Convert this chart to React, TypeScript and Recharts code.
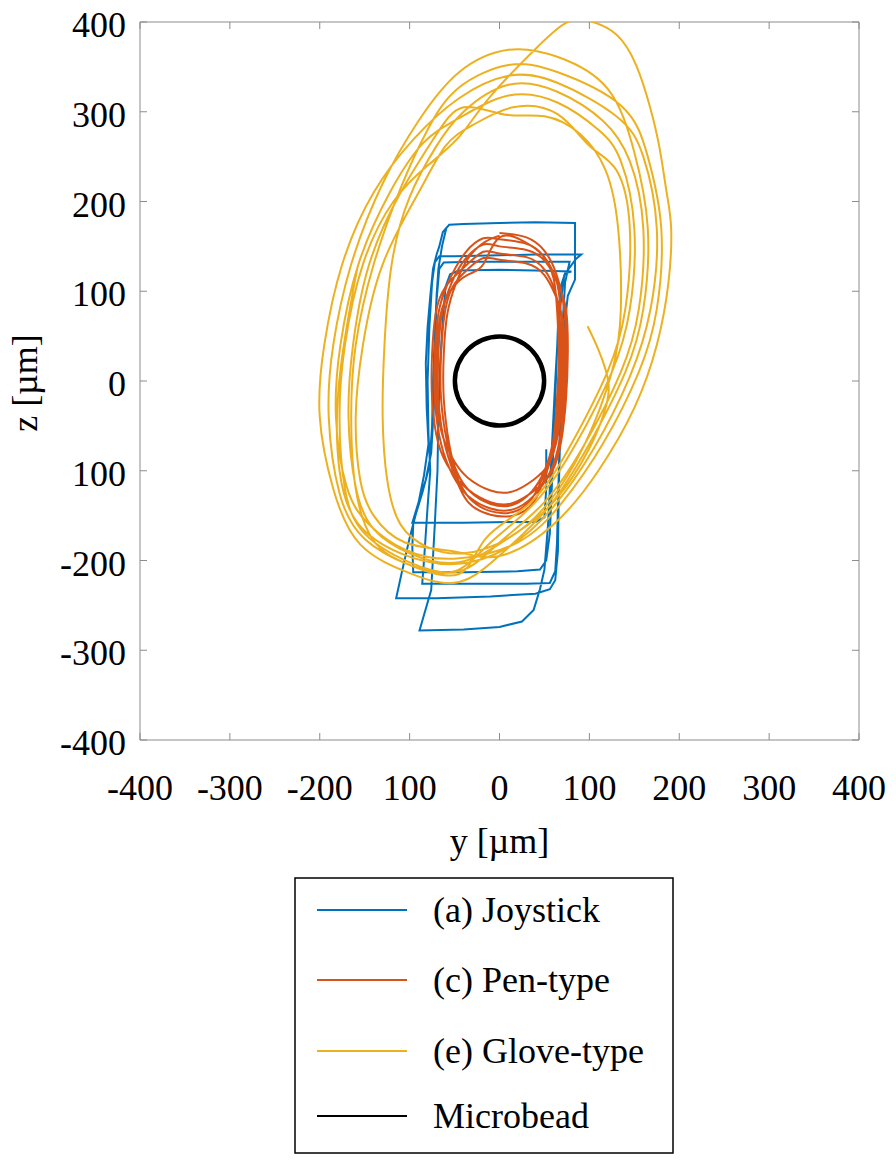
import React from 'react';
import { ScatterChart, Scatter, XAxis, YAxis, Label } from 'recharts';

// Trajectories of the manipulated microbead, y/z in µm.

const axisTicks = [-400, -300, -200, -100, 0, 100, 200, 300, 400];
// the printed figure lost the minus sign on -100 on both axes
const tickLabels = ['-400', '-300', '-200', '100', '0', '100', '200', '300', '400'];

const joystickTrace: [number, number][] = [
  [-59, 171], [-64, 150], [-68, 125], [-70, 95], [-72, 50], [-74, 0], [-75, -50], [-78, -95], [-86, -125],
  [-93, -148], [-100, -175], [-108, -210], [-115, -242],
  [-70, -242], [-10, -240], [40, -237], [56, -232], [62, -222], [65, -190], [66, -120], [68, -40], [70, 40],
  [76, 95], [84, 113], [84, 150], [84, 176],
  [40, 177], [0, 176], [-40, 175], [-56, 174], [-63, 166], [-67, 150], [-70, 141],
  [-74, 125], [-77, 95], [-80, 60], [-82, 20], [-81, -30], [-79, -70], [-84, -105], [-90, -135], [-96, -160],
  [-97, -185], [-96, -213],
  [-40, -213], [20, -212], [45, -210], [52, -200], [56, -170], [59, -100], [62, -20], [65, 60], [68, 105],
  [73, 120], [80, 122],
  [40, 123], [0, 124], [-45, 123], [-55, 119], [-60, 105], [-63, 70], [-66, 20], [-68, -40], [-69, -100],
  [-72, -160], [-76, -233], [-89, -278],
  [-40, -277], [0, -274], [25, -268], [38, -255], [45, -232], [50, -210], [54, -160], [58, -80], [62, 0],
  [66, 70], [72, 118], [85, 136], [91, 141],
  [40, 141], [0, 140], [-50, 139], [-67, 139], [-72, 132], [-75, 110], [-78, 60], [-80, 0], [-79, -60],
  [-77, -100], [-80, -140], [-84, -200], [-86, -226],
  [-30, -226], [30, -226], [56, -225], [62, -212], [64, -180], [66, -100], [68, -20], [70, 60], [73, 110],
  [78, 133],
  [30, 133], [-30, 133], [-62, 132], [-67, 125], [-70, 90], [-72, 30], [-73, -30], [-76, -80], [-82, -110],
  [-90, -135], [-97, -158],
  [-40, -158], [10, -157], [40, -157], [50, -152], [52, -120], [52, -76],
];

const penTrace: [number, number][] = [
  [0, 165], [30, 160], [50, 145], [63, 120], [72, 80], [74, 30], [72, -20], [67, -65], [57, -100], [38, -128],
  [15, -143], [-10, -142], [-35, -128], [-52, -105], [-65, -70], [-72, -20], [-72, 30], [-68, 75], [-57, 110],
  [-38, 143], [-18, 159],
  [0, 158], [30, 153], [50, 138], [63, 113], [68, 80], [70, 30], [68, -20], [63, -65], [53, -100], [38, -135],
  [15, -150], [-10, -149], [-35, -135], [-50, -105], [-61, -70], [-68, -20], [-68, 30], [-64, 75], [-53, 110],
  [-38, 136], [-18, 152],
  [0, 150], [30, 146], [52, 132], [65, 108], [74, 80], [76, 30], [74, -20], [69, -65], [59, -100], [40, -121],
  [15, -136], [-10, -135], [-35, -121], [-54, -100], [-68, -70], [-75, -20], [-75, 30], [-71, 75], [-60, 105],
  [-38, 128], [-18, 144],
  [0, 142], [30, 138], [50, 124], [62, 100], [66, 75], [68, 30], [66, -20], [61, -65], [51, -100], [36, -131],
  [15, -146], [-10, -145], [-33, -131], [-48, -105], [-58, -70], [-65, -20], [-65, 30], [-61, 75], [-52, 105],
  [-36, 124], [-18, 137],
  [0, 135], [30, 131], [50, 118], [62, 96], [70, 70], [72, 30], [70, -20], [65, -60], [55, -92], [38, -110],
  [15, -123], [-10, -122], [-35, -108], [-50, -90], [-63, -62], [-70, -20], [-70, 30], [-66, 72], [-55, 100],
  [-36, 118], [-18, 130],
  [0, 160], [28, 155], [48, 140], [60, 115], [64, 80], [66, 30], [64, -20], [60, -65], [50, -100], [36, -123],
  [15, -138], [-10, -137], [-33, -123], [-48, -100], [-56, -70], [-62, -20], [-62, 30], [-58, 75], [-48, 110],
  [-34, 138], [-16, 155], [0, 162],
];

const gloveTrace: [number, number][] = [
  [-158, 127], [-170, 60], [-180, -20], [-178, -100], [-158, -158], [-110, -192], [-50, -204],
  [10, -185], [60, -140], [105, -75], [145, 5], [168, 80], [175, 170], [160, 250], [130, 295], [65, 332], [10, 340],
  [-45, 315], [-95, 270], [-140, 210], [-175, 130], [-195, 40], [-200, -40], [-185, -120], [-155, -182],
  [-100, -214], [-45, -224],
  [5, -190], [55, -140], [100, -70], [140, 10], [160, 80], [165, 170], [150, 255], [120, 326], [65, 361], [10, 369],
  [-45, 344], [-90, 290], [-130, 220], [-165, 130], [-185, 40], [-190, -40], [-178, -125], [-150, -176],
  [-100, -205], [-50, -212],
  [-10, -180], [40, -135], [85, -70], [125, 10], [145, 80], [150, 170], [135, 245], [110, 280], [65, 310], [10, 318],
  [-45, 293], [-85, 265], [-122, 210], [-157, 130], [-177, 40], [-182, -40], [-170, -118], [-145, -160],
  [-105, -188], [-50, -198],
  [20, -180], [70, -135], [115, -70], [155, 10], [175, 80], [180, 170], [165, 250], [135, 307], [65, 344], [10, 352],
  [-45, 327], [-80, 280], [-110, 215], [-140, 130], [-160, 40], [-165, -40], [-160, -120], [-140, -178],
  [-100, -205], [-45, -215],
  [-15, -175], [35, -135], [80, -70], [120, 10], [140, 80], [145, 170], [130, 235], [100, 262], [65, 297], [15, 305],
  [-30, 285], [-60, 262], [-90, 210], [-130, 130], [-152, 40], [-160, -40], [-155, -110], [-140, -150],
  [-105, -180], [-50, -190],
  [0, -195], [60, -160], [110, -100], [150, -30], [175, 40], [188, 110], [191, 170], [186, 210], [178, 260],
  [167, 307], [152, 352], [130, 386], [100, 401], [74, 399], [40, 370], [-11, 316],
  [-45, 272], [-80, 240], [-118, 200], [-152, 130], [-172, 40], [-178, -40], [-172, -120], [-150, -170],
  [-100, -202], [-45, -212],
  [0, -180], [50, -135], [95, -70], [135, 10], [155, 80], [160, 170], [145, 245], [115, 290], [65, 322], [10, 330],
  [-40, 300], [-70, 262], [-100, 205], [-120, 130], [-128, 40], [-130, -40], [-125, -110], [-110, -160],
  [-80, -185], [-40, -192],
  [10, -175], [55, -135], [95, -70], [125, 10], [135, 80], [132, 170], [118, 235], [90, 275], [50, 295], [5, 297],
  [-40, 305], [-72, 272], [-110, 210], [-145, 130], [-163, 40], [-168, -40], [-160, -118], [-140, -165],
  [-100, -192], [-45, -202],
  [10, -175], [60, -135], [100, -75], [118, -30], [121, 0], [110, 35], [98, 61],
];

const microbeadOutline: [number, number][] = [
  [51, 0], [47, 19.5], [36, 36], [19.5, 47], [0, 51], [-19.5, 47], [-36, 36], [-47, 19.5],
  [-51, 0], [-47, -19.5], [-36, -36], [-19.5, -47], [0, -51], [19.5, -47], [36, -36], [47, -19.5],
];

const toPoints = (trace: [number, number][]) => trace.map(([y, z]) => ({ y, z }));

const series = [
  { name: '(a) Joystick', color: '#0072BD', width: 2, joint: 'linear', data: toPoints(joystickTrace) },
  { name: '(c) Pen-type', color: '#D95319', width: 2, joint: 'natural', data: toPoints(penTrace) },
  { name: '(e) Glove-type', color: '#EDB120', width: 2, joint: 'natural', data: toPoints(gloveTrace) },
  { name: 'Microbead', color: '#000000', width: 4.5, joint: 'basisClosed', data: toPoints(microbeadOutline) },
];

const FONT = "'Liberation Serif', 'Times New Roman', serif";
const AXIS_GREY = '#8c8c8c';

const labelFor = (v: number) => tickLabels[axisTicks.indexOf(v)] ?? String(v);

const BottomTick = (props: any) => (
  <text x={props.x} y={props.y + 26} textAnchor="middle" fontSize={36} fontFamily={FONT} fill="#000">
    {labelFor(props.payload.value)}
  </text>
);

const LeftTick = (props: any) => (
  <text x={props.x} y={props.y + 15} textAnchor="end" fontSize={36} fontFamily={FONT} fill="#000">
    {labelFor(props.payload.value)}
  </text>
);

const NoTick = () => <g />;
const NoDot = () => <g />;

export default function App() {
  return (
    <div style={{ position: 'relative', width: 896, height: 1164, background: '#fff' }}>
      <style>{'body{margin:0;background:#fff}'}</style>
      <ScatterChart width={896} height={1164} margin={{ top: 21, right: 36, bottom: 324, left: 0 }}>
        <XAxis
          xAxisId="bottom"
          type="number"
          dataKey="y"
          domain={[-400, 400]}
          ticks={axisTicks}
          interval={0}
          allowDataOverflow
          height={100}
          stroke={AXIS_GREY}
          tickSize={-7}
          tickMargin={41}
          tick={BottomTick}
        >
          <Label
            content={({ viewBox }: any) => (
              <text x={viewBox.x + viewBox.width / 2} y={viewBox.y + 113} textAnchor="middle" fontSize={36} fontFamily={FONT} fill="#000">
                y [µm]
              </text>
            )}
          />
        </XAxis>
        <XAxis
          xAxisId="top"
          orientation="top"
          type="number"
          dataKey="y"
          domain={[-400, 400]}
          ticks={axisTicks}
          interval={0}
          allowDataOverflow
          height={1}
          stroke={AXIS_GREY}
          tickSize={-7}
          tick={NoTick}
        />
        <YAxis
          yAxisId="left"
          type="number"
          dataKey="z"
          domain={[-400, 400]}
          ticks={axisTicks}
          interval={0}
          allowDataOverflow
          width={140}
          stroke={AXIS_GREY}
          tickSize={-7}
          tickMargin={21}
          tick={LeftTick}
        >
          <Label
            content={({ viewBox }: any) => {
              const cx = viewBox.x + 37;
              const cy = viewBox.y + viewBox.height / 2 + 2;
              return (
                <text x={cx} y={cy} transform={`rotate(-90, ${cx}, ${cy})`} textAnchor="middle" fontSize={36} fontFamily={FONT} fill="#000">
                  z [µm]
                </text>
              );
            }}
          />
        </YAxis>
        <YAxis
          yAxisId="right"
          orientation="right"
          type="number"
          dataKey="z"
          domain={[-400, 400]}
          ticks={axisTicks}
          interval={0}
          allowDataOverflow
          width={1}
          stroke={AXIS_GREY}
          tickSize={-7}
          tick={NoTick}
        />
        {series.map((s, i) => {
          const last = i === series.length - 1;
          return (
            <Scatter
              key={s.name}
              name={s.name}
              data={s.data}
              xAxisId={last ? 'top' : 'bottom'}
              yAxisId={last ? 'right' : 'left'}
              fill={s.color}
              line={{ stroke: s.color, strokeWidth: s.width }}
              lineJointType={s.joint as any}
              shape={NoDot}
              isAnimationActive={false}
            />
          );
        })}
      </ScatterChart>
      <svg
        width={380}
        height={277}
        style={{ position: 'absolute', left: 294, top: 877, overflow: 'visible' }}
      >
        <rect x={1} y={1} width={378} height={275} fill="#fff" stroke="#000" strokeWidth={1.5} />
        {series.map((s, i) => {
          const rowY = [33, 103, 174, 239][i];
          return (
            <g key={s.name}>
              <line x1={23} x2={113} y1={rowY} y2={rowY} stroke={s.color} strokeWidth={2} />
              <text x={139} y={rowY + 12} fontSize={36} fontFamily={FONT} fill="#000">
                {s.name}
              </text>
            </g>
          );
        })}
      </svg>
    </div>
  );
}
